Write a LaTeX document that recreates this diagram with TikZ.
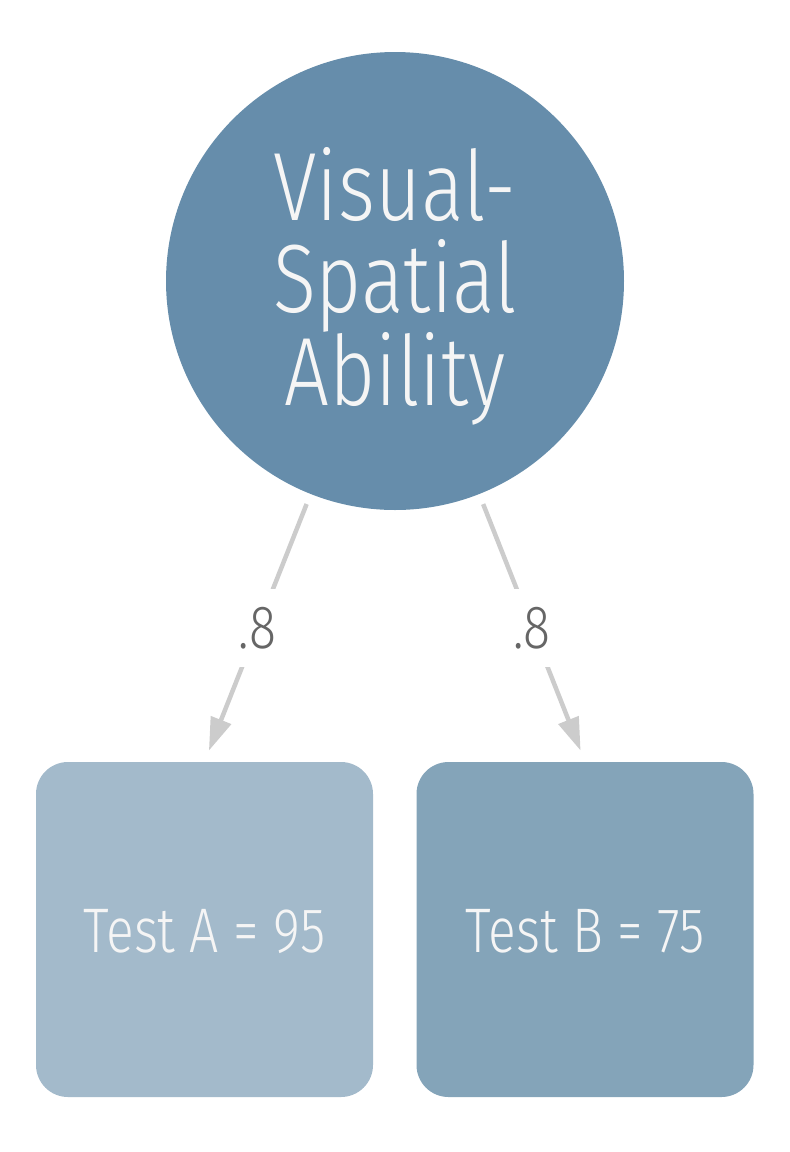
\documentclass[tikz,border=0pt]{standalone}
\usepackage{fontspec}
\setmainfont{Fira Sans Light}[FakeStretch=0.82]
\usetikzlibrary{arrows.meta}
\definecolor{factorblue}{HTML}{668DAB}
\definecolor{testafill}{HTML}{A3BACB}
\definecolor{testbfill}{HTML}{84A4B9}
\definecolor{loadgray}{HTML}{CCCCCC}
\definecolor{weightgray}{HTML}{666666}
\definecolor{textwhite}{HTML}{F5F5F5}

\begin{document}
\begin{tikzpicture}[x=1pt,y=-1pt]
\tikzstyle{every node}=[inner sep=0pt, text=textwhite]
\tikzstyle{factor}=[circle, fill=factorblue, minimum size=458pt, align=center, text depth=9pt, font=\fontsize{97}{92}\selectfont]
\tikzstyle{test}=[rectangle, rounded corners=32pt, minimum width=337pt, minimum height=335pt, text height=46pt, text depth=0pt, font=\fontsize{63}{63}\selectfont]
\tikzstyle{load}=[draw=loadgray, line width=4.5pt, -{Triangle[length=33pt,width=21pt]}, shorten <=10.7pt, shorten >=12pt]
\tikzstyle{weight}=[fill=white, text=weightgray, minimum height=78pt, font=\fontsize{61}{61}\selectfont]
\useasboundingbox (0,0) rectangle (790,1152);
\draw (395,281) node (vsa) [factor] {Visual-\\Spatial\\Ability};
\draw (204.5,929.5) node (ta) [test,fill=testafill] {Test A = 95};
\draw (585,929.5) node (tb) [test,fill=testbfill] {Test B = 75};
\draw [load] (vsa) -- node [weight] {.8} (ta.north);
\draw [load] (vsa) -- node [weight] {.8} (tb.north);
\end{tikzpicture}
\end{document}
